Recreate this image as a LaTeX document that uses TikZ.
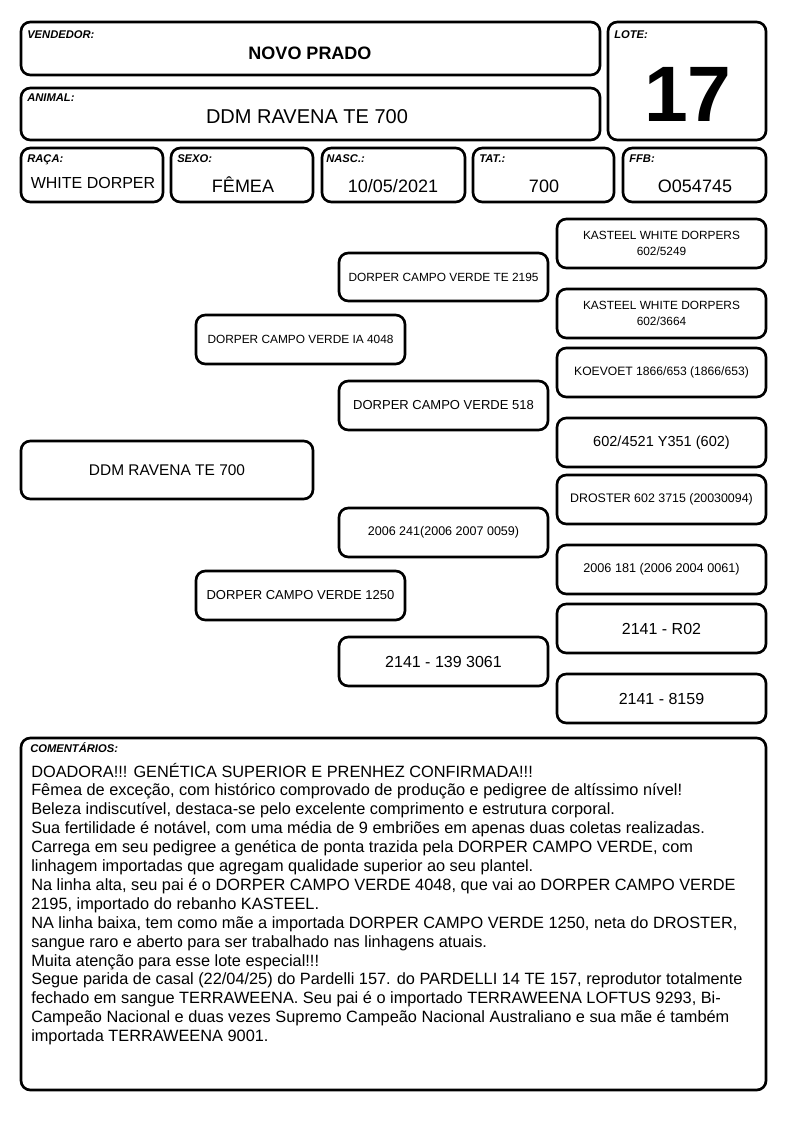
\documentclass[tikz,border=0pt]{standalone}
\usepackage{fontspec}
\setmainfont{Liberation Sans}
\newcommand{\fs}[1]{\fontsize{#1}{#1}\selectfont}
\tikzset{
  box/.style={draw=black, line width=2pt, rounded corners=7pt, fill=white, inner sep=0pt, align=center},
  tag/.style={anchor=base west, inner sep=0pt, font=\fs{8.4}\bfseries\itshape},
  val/.style={anchor=base, inner sep=0pt},
}
\newcommand{\mybox}[7]{%
  \node[box, font=#6, minimum width={(#4-#2)*0.75pt}, minimum height={(#5-#3)*0.75pt}] (#1) at ({(#2+#4)/2},{(#3+#5)/2}) {#7};}
\begin{document}
\begin{tikzpicture}[x=0.75pt,y=-0.75pt]
\useasboundingbox[fill=white] (0,0) rectangle (794,1123);
% header
\mybox{vend}{21}{22}{600}{75}{\fs{12}}{}
\mybox{animal}{21}{88}{600}{140}{\fs{12}}{}
\mybox{lote}{608}{22}{766}{140}{\fs{12}}{}
\mybox{raca}{21}{148}{163}{202}{\fs{12}}{}
\mybox{sexo}{171}{148}{313}{202}{\fs{12}}{}
\mybox{nasc}{322}{148}{465}{202}{\fs{12}}{}
\mybox{tat}{473}{148}{614}{202}{\fs{12}}{}
\mybox{ffb}{623}{148}{766}{202}{\fs{12}}{}
\node[tag] (tvend) at (27,39) {VENDEDOR:};
\node[tag] (tanimal) at (27,102) {ANIMAL:};
\node[tag] (tlote) at (614,39) {LOTE:};
\node[tag] (traca) at (27,163) {RAÇA:};
\node[tag] (tsexo) at (177,163) {SEXO:};
\node[tag] (tnasc) at (326,163) {NASC.:};
\node[tag] (ttat) at (479,163) {TAT.:};
\node[tag] (tffb) at (629,163) {FFB:};
\node[val, font=\fs{13.5}\bfseries] (vvend) at (310,60) {NOVO PRADO};
\node[val, font=\fs{15}] (vanimal) at (307,124) {DDM RAVENA TE 700};
\node[val, font=\fs{59}\bfseries] (vlote) at (688,122) {17};
\node[val, font=\fs{12}] (vraca) at (93,189) {WHITE DORPER};
\node[val, font=\fs{13.5}] (vsexo) at (243,193) {FÊMEA};
\node[val, font=\fs{13.5}] (vnasc) at (393,193) {10/05/2021};
\node[val, font=\fs{13.5}] (vtat) at (544,193) {700};
\node[val, font=\fs{13.5}] (vffb) at (695,193) {O054745};
% pedigree
\mybox{main}{21}{441}{313}{499}{\fs{11.6}}{DDM RAVENA TE 700}
\mybox{sire}{196}{315}{405}{364}{\fs{8.9}}{DORPER CAMPO VERDE IA 4048}
\mybox{dam}{196}{571}{405}{620}{\fs{9.75}}{DORPER CAMPO VERDE 1250}
\mybox{g1}{339}{253}{548}{301}{\fs{8.9}}{DORPER CAMPO VERDE TE 2195}
\mybox{g2}{339}{381}{548}{430}{\fs{9.75}}{DORPER CAMPO VERDE 518}
\mybox{g3}{339}{508}{548}{557}{\fs{9.4}}{2006 241(2006 2007 0059)}
\mybox{g4}{339}{637}{548}{686}{\fs{12}}{2141 - 139 3061}
\mybox{gg1}{557}{219}{766}{268}{\fontsize{8.9}{11.5}\selectfont}{KASTEEL WHITE DORPERS\\602/5249}
\mybox{gg2}{557}{289}{766}{338}{\fontsize{8.9}{11.5}\selectfont}{KASTEEL WHITE DORPERS\\602/3664}
\mybox{gg3}{557}{348}{766}{397}{\fs{9.1}}{KOEVOET 1866/653 (1866/653)}
\mybox{gg4}{557}{418}{766}{467}{\fs{10.9}}{602/4521 Y351 (602)}
\mybox{gg5}{557}{475}{766}{524}{\fs{9.3}}{DROSTER 602 3715 (20030094)}
\mybox{gg6}{557}{545}{766}{594}{\fs{9.5}}{2006 181 (2006 2004 0061)}
\mybox{gg7}{557}{604}{766}{653}{\fs{12}}{2141 - R02}
\mybox{gg8}{557}{674}{766}{723}{\fs{12}}{2141 - 8159}
% comments
\mybox{com}{21}{738}{766}{1090}{\fs{12}}{}
\node[tag] (tcom) at (30,752) {COMENTÁRIOS:};
\node[anchor=base west, inner sep=0pt] (ctext) at (31,777) {\parbox[t]{580pt}{\fontsize{12.25}{14.175}\selectfont\parindent=0pt%
DOADORA!!! GENÉTICA SUPERIOR E PRENHEZ CONFIRMADA!!!\\
Fêmea de exceção, com histórico comprovado de produção e pedigree de altíssimo nível!\\
Beleza indiscutível, destaca-se pelo excelente comprimento e estrutura corporal.\\
Sua fertilidade é notável, com uma média de 9 embriões em apenas duas coletas realizadas.\\
Carrega em seu pedigree a genética de ponta trazida pela DORPER CAMPO VERDE, com\\
linhagem importadas que agregam qualidade superior ao seu plantel.\\
Na linha alta, seu pai é o DORPER CAMPO VERDE 4048, que vai ao DORPER CAMPO VERDE\\
2195, importado do rebanho KASTEEL.\\
NA linha baixa, tem como mãe a importada DORPER CAMPO VERDE 1250, neta do DROSTER,\\
sangue raro e aberto para ser trabalhado nas linhagens atuais.\\
Muita atenção para esse lote especial!!!\\
Segue parida de casal (22/04/25) do Pardelli 157. do PARDELLI 14 TE 157, reprodutor totalmente\\
fechado em sangue TERRAWEENA. Seu pai é o importado TERRAWEENA LOFTUS 9293, Bi-\\
Campeão Nacional e duas vezes Supremo Campeão Nacional Australiano e sua mãe é também\\
importada TERRAWEENA 9001.}};
\end{tikzpicture}
\end{document}
